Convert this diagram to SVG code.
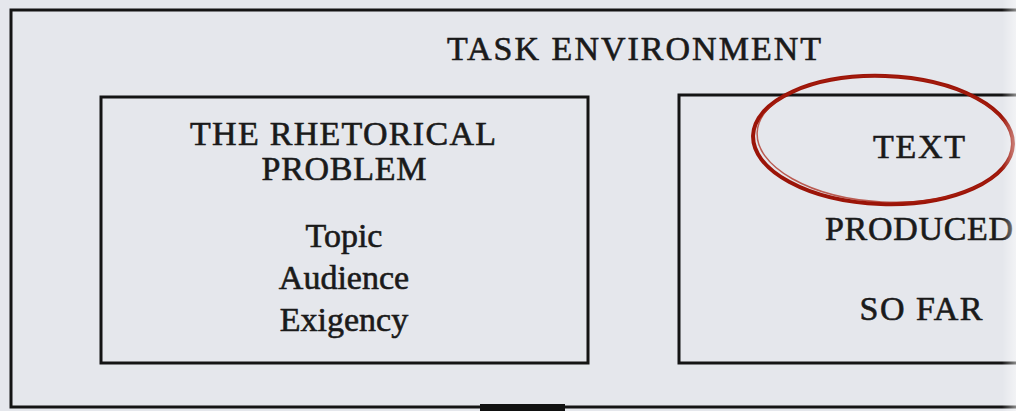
<svg xmlns="http://www.w3.org/2000/svg" width="1016" height="411" viewBox="0 0 1016 411">
<defs>
<linearGradient id="edge" x1="0" y1="0" x2="1" y2="0">
<stop offset="0" stop-color="#ffffff" stop-opacity="0"/>
<stop offset="1" stop-color="#ffffff" stop-opacity="0.5"/>
</linearGradient>
</defs>
<style>
.box{fill:none;stroke:#141414;stroke-width:3}
.t{font-family:"Liberation Serif","Times New Roman",serif;font-size:34px;fill:#1a1a1a;stroke:#1a1a1a;stroke-width:0.6;text-anchor:middle}
</style>
<rect x="0" y="0" width="1016" height="411" fill="#e5e7ec"/>
<g id="task-environment">
<rect class="box" x="11" y="10" width="1020" height="397"/>
<text class="t" x="634" y="60" textLength="374" lengthAdjust="spacing">TASK ENVIRONMENT</text>
</g>
<g id="rhetorical-problem">
<rect class="box" x="101" y="97" width="487" height="266"/>
<text class="t" x="343" y="145" textLength="306" lengthAdjust="spacing">THE RHETORICAL</text>
<text class="t" x="344" y="180" textLength="165" lengthAdjust="spacing">PROBLEM</text>
<text class="t" x="344" y="247">Topic</text>
<text class="t" x="344" y="289">Audience</text>
<text class="t" x="344" y="331">Exigency</text>
</g>
<g id="text-produced">
<rect class="box" x="679" y="95" width="360" height="268"/>
<text class="t" x="919" y="158" textLength="92" lengthAdjust="spacing">TEXT</text>
<text class="t" x="919" y="240" textLength="188" lengthAdjust="spacing">PRODUCED</text>
<text class="t" x="921" y="320" textLength="123" lengthAdjust="spacing">SO FAR</text>
</g>
<g id="connectors"></g>
<g id="highlight">
<ellipse cx="883" cy="140" rx="130" ry="64" transform="rotate(2 883 140)" fill="none" stroke="#9b1408" stroke-width="4"/>
<ellipse cx="885" cy="139" rx="128" ry="63" transform="rotate(3 885 139)" fill="none" stroke="#a8200f" stroke-width="1.5" opacity="0.7"/>
</g>
<rect x="480" y="404" width="85" height="7" fill="#111"/>
<rect x="1002" y="0" width="14" height="411" fill="url(#edge)"/>
</svg>
